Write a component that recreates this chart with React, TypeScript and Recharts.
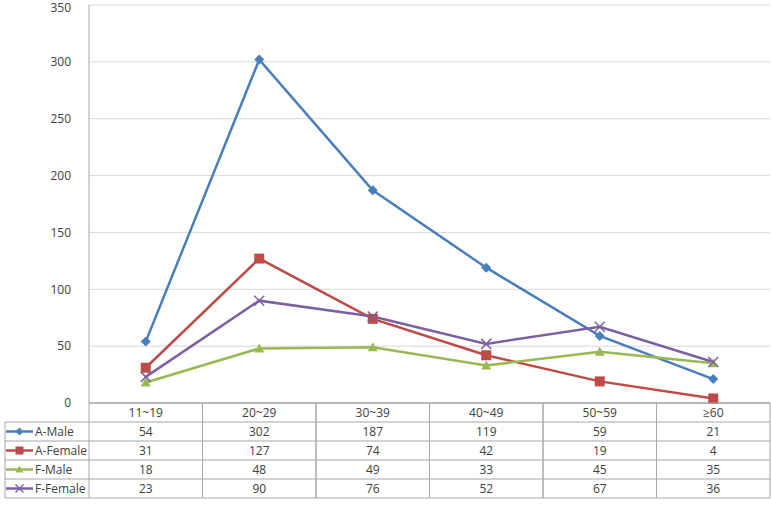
import { LineChart, Line, XAxis, YAxis, CartesianGrid } from 'recharts'

const categories = ['11~19', '20~29', '30~39', '40~49', '50~59', '≥60']
const aMale = [54, 302, 187, 119, 59, 21]
const aFemale = [31, 127, 74, 42, 19, 4]
const fMale = [18, 48, 49, 33, 45, 35]
const fFemale = [23, 90, 76, 52, 67, 36]
const yTicks = [0, 50, 100, 150, 200, 250, 300, 350]

const series = [
  { key: 'aMale', name: 'A-Male', color: '#4A7EBB', shape: 'diamond', values: aMale },
  { key: 'aFemale', name: 'A-Female', color: '#BE4B48', shape: 'square', values: aFemale },
  { key: 'fMale', name: 'F-Male', color: '#98B954', shape: 'triangle', values: fMale },
  { key: 'fFemale', name: 'F-Female', color: '#7D60A0', shape: 'cross', values: fFemale },
]

const data = categories.map((cat, i) => {
  const row: Record<string, string | number> = { cat }
  series.forEach((s) => {
    row[s.key] = s.values[i]
  })
  return row
})

const W = 771
const H = 509
const LEFT = 89
const RIGHT = 1
const TOP = 5
const BOTTOM = 106
const COL = (W - LEFT - RIGHT) / categories.length
const ROW = 19
const BORDER = '#A6A6A6'
const FONT = 'Open Sans, Noto Sans, sans-serif'
const TEXT = '#404040'

function Marker({ cx, cy, shape, color, size = 5 }: any) {
  if (cx == null || cy == null) return null
  if (shape === 'diamond')
    return <polygon points={`${cx},${cy - size} ${cx + size},${cy} ${cx},${cy + size} ${cx - size},${cy}`} fill={color} />
  if (shape === 'square')
    return <rect x={cx - size} y={cy - size} width={size * 2} height={size * 2} fill={color} />
  if (shape === 'triangle')
    return <polygon points={`${cx},${cy - size} ${cx + size},${cy + size - 1} ${cx - size},${cy + size - 1}`} fill={color} />
  return (
    <g stroke={color} strokeWidth={1.5}>
      <line x1={cx - size} y1={cy - size} x2={cx + size} y2={cy + size} />
      <line x1={cx - size} y1={cy + size} x2={cx + size} y2={cy - size} />
    </g>
  )
}

function ColumnTick({ x, index, payload }: any) {
  const top = H - BOTTOM
  const l = x - COL / 2
  const r = x + COL / 2
  const rows = series.length + 1
  return (
    <g fontFamily={FONT} fontSize={12} fill={TEXT}>
      {Array.from({ length: rows + 1 }).map((_, k) => (
        <line key={k} x1={l} x2={r} y1={top + k * ROW} y2={top + k * ROW} stroke={BORDER} />
      ))}
      <line x1={l} x2={l} y1={top} y2={top + rows * ROW} stroke={BORDER} />
      <line x1={r} x2={r} y1={top} y2={top + rows * ROW} stroke={BORDER} />
      <text x={x} y={top + ROW / 2 + 4} textAnchor="middle">{payload.value}</text>
      {series.map((s, k) => (
        <text key={s.key} x={x} y={top + (k + 1) * ROW + ROW / 2 + 4} textAnchor="middle">
          {s.values[index]}
        </text>
      ))}
      {index === 0 && (
        <g>
          {series.map((s, k) => {
            const y = top + (k + 1) * ROW
            return (
              <g key={s.key}>
                <line x1={5} x2={l} y1={y} y2={y} stroke={BORDER} />
                <line x1={6} x2={33} y1={y + ROW / 2} y2={y + ROW / 2} stroke={s.color} strokeWidth={2.5} />
                <Marker cx={19.5} cy={y + ROW / 2} shape={s.shape} color={s.color} size={4} />
                <text x={35} y={y + ROW / 2 + 4} textAnchor="start">{s.name}</text>
              </g>
            )
          })}
          <line x1={5} x2={l} y1={top + rows * ROW} y2={top + rows * ROW} stroke={BORDER} />
          <line x1={5} x2={5} y1={top + ROW} y2={top + rows * ROW} stroke={BORDER} />
        </g>
      )}
    </g>
  )
}

export default function App() {
  return (
    <div style={{ position: 'absolute', left: 0, top: 0, width: W, height: H, background: '#fff' }}>
      <LineChart width={W} height={H} data={data} margin={{ top: TOP, right: RIGHT, bottom: 0, left: 0 }}>
        <CartesianGrid vertical={false} stroke="#D9D9D9" />
        <XAxis
          dataKey="cat"
          padding={{ left: COL / 2, right: COL / 2 }}
          axisLine={{ stroke: BORDER }}
          tickLine={false}
          interval={0}
          height={BOTTOM}
          tick={<ColumnTick />}
        />
        <YAxis
          domain={[0, 350]}
          ticks={yTicks}
          width={LEFT}
          axisLine={{ stroke: BORDER }}
          tickLine={false}
          tickMargin={12}
          tick={{ fill: TEXT, fontSize: 12, fontFamily: FONT }}
        />
        {series.map((s) => (
          <Line
            key={s.key}
            dataKey={s.key}
            name={s.name}
            stroke={s.color}
            strokeWidth={2.5}
            isAnimationActive={false}
            dot={(p: any) => <Marker key={p.index} cx={p.cx} cy={p.cy} shape={s.shape} color={s.color} />}
            activeDot={false}
          />
        ))}
      </LineChart>
    </div>
  )
}
